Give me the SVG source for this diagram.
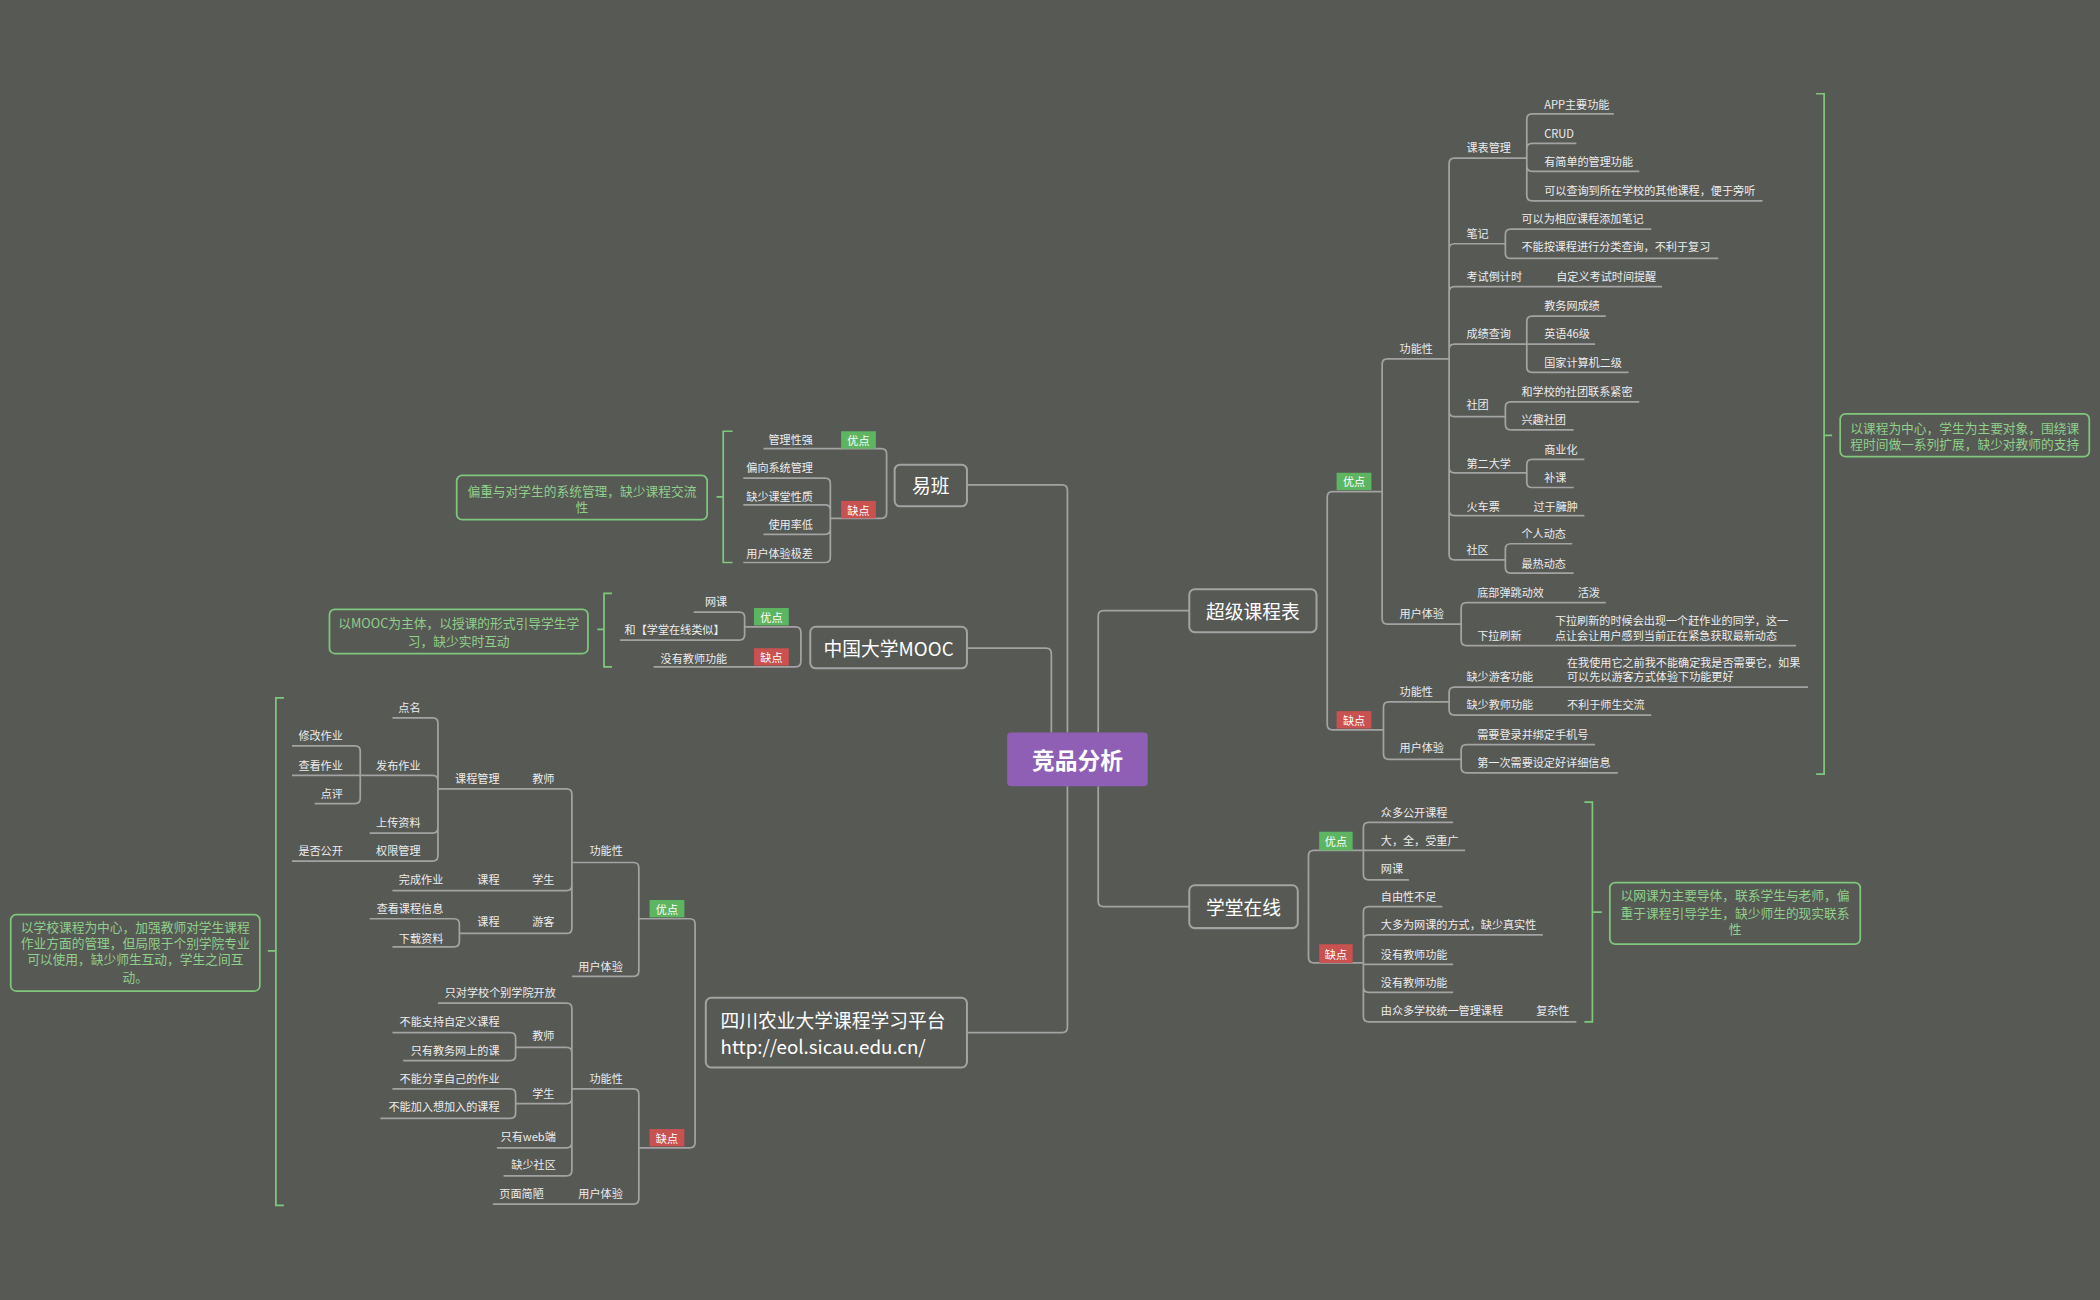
<svg xmlns="http://www.w3.org/2000/svg" width="2100" height="1300" viewBox="0 0 2100 1300">
<style>
.l{fill:none;stroke:#a3a3a3;stroke-width:1.3}
.g{fill:none;stroke:#7fc77c;stroke-width:1.3}
text{font-family:"Noto Sans CJK SC","Noto Sans",sans-serif;dominant-baseline:central}
.t{font-size:8.3px;fill:#ececec}
.te{font-size:8.3px;fill:#ececec;text-anchor:end}
.n{font-size:14px;fill:#ffffff}
.s{font-size:9.5px;fill:#8fd08a;text-anchor:middle}
.tag{font-size:8.3px;fill:#ffffff;text-anchor:middle}
.box{fill:#575955;stroke:#a3a3a3;stroke-width:1.5}
.sb{fill:#575955;stroke:#7fc77c;stroke-width:1.3}
</style>
<rect width="2100" height="1300" fill="#575955"/>
<g transform="scale(1.339286)">
<g id="connectors">
<path class="l" d="M797 547V366Q797 362 793 362H722M785 547V488Q785 484 781 484H722M797 587V767Q797 771 793 771H722M820 547V460Q820 456 824 456H888M820 587V673Q820 677 824 677H888"/>
<!-- yiban -->
<path class="l" d="M662 362V339Q662 335 658 335H570M662 362V383Q662 387 658 387H620M620 387V361Q620 357 616 357H555M620 387V381Q620 377 616 377H555M620 387V395Q620 399 616 399H570M620 387V416Q620 420 616 420H555"/>
<!-- mooc -->
<path class="l" d="M598 484V472Q598 468 594 468H556M598 484V494Q598 498 594 498H488M556 468V461Q556 457 552 457H518M556 468V474Q556 478 552 478H463"/>
<!-- sicau -->
<path class="l" d="M519 771V690Q519 686 515 686H477M519 771V853Q519 857 515 857H477M477 686V648Q477 644 473 644H427M477 686V725Q477 729 473 729H427M427 644V593Q427 589 423 589H327M327 589V540Q327 536 323 536H293M327 589V583Q327 579 323 579H269M327 589V618Q327 622 323 622H276M327 589V639Q327 643 323 643H218M269 579V561Q269 557 265 557H218M269 579H218M269 579V596Q269 600 265 600H235M427 644V661Q427 665 423 665H293M427 644V693Q427 697 423 697H343M343 697V690Q343 686 339 686H276M343 697V703Q343 707 339 707H293M477 857V817Q477 813 473 813H427M477 857V895Q477 899 473 899H368M427 813V753Q427 749 423 749H327M427 813V786Q427 782 423 782H385M427 813V820Q427 824 423 824H385M427 813V853Q427 857 423 857H371M427 813V874Q427 878 423 878H376M385 782V775Q385 771 381 771H293M385 782V788Q385 792 381 792H301M385 824V817Q385 813 381 813H293M385 824V831Q385 835 381 835H284"/>
<!-- super -->
<path class="l" d="M991 456V371Q991 367 995 367H1032M991 456V541Q991 545 995 545H1033M1032 367V272Q1032 268 1036 268H1082M1032 367V462Q1032 466 1036 466H1091M1082 268V122Q1082 118 1086 118H1140M1082 268V186Q1082 182 1086 182H1124M1082 268V218Q1082 214 1086 214H1241M1082 268V261Q1082 257 1086 257H1140M1082 268V307Q1082 311 1086 311H1124M1082 268V349Q1082 353 1086 353H1140M1082 268V381Q1082 385 1086 385H1183M1082 268V414Q1082 418 1086 418H1124M1140 118V89Q1140 85 1144 85H1205M1140 118V111Q1140 107 1144 107H1177M1140 118V124Q1140 128 1144 128H1224M1140 118V146Q1140 150 1144 150H1316M1124 182V175Q1124 171 1128 171H1233M1124 182V189Q1124 193 1128 193H1283M1140 257V240Q1140 236 1144 236H1199M1140 257H1191M1140 257V274Q1140 278 1144 278H1216M1124 311V304Q1124 300 1128 300H1224M1124 311V317Q1124 321 1128 321H1175M1140 353V347Q1140 343 1144 343H1183M1140 353V360Q1140 364 1144 364H1175M1124 418V410Q1124 406 1128 406H1174M1124 418V424Q1124 428 1128 428H1175M1091 466V454Q1091 450 1095 450H1199M1091 466V478Q1091 482 1095 482H1341M1033 545V528Q1033 524 1037 524H1082M1033 545V563Q1033 567 1037 567H1091M1082 524V517Q1082 513 1086 513H1350M1082 524V530Q1082 534 1086 534H1233M1091 567V560Q1091 556 1095 556H1191M1091 567V573Q1091 577 1095 577H1208"/>
<!-- xuetang -->
<path class="l" d="M977 677V639Q977 635 981 635H1018M977 677V715Q977 719 981 719H1018M1018 635V618Q1018 614 1022 614H1085M1018 635H1094M1018 635V653Q1018 657 1022 657H1052M1018 719V681Q1018 677 1022 677H1077M1018 719V702Q1018 698 1022 698H1152M1018 719V720H1085M1018 719V737Q1018 741 1022 741H1085M1018 719V759Q1018 763 1022 763H1177"/>
<!-- brackets -->
<path class="g" d="M547 322H540V420H547M540 371H535M457 443H451V498H457M451 470H446M212 521H206V900H212M206 710H200M1356 70H1362V578H1356M1362 325H1368M1183 599H1189V763H1183M1189 681H1196"/>
</g>
<g id="center"><rect x="752" y="547" width="105" height="40" rx="3" fill="#8e5fb5"/><text x="804.5" y="567" font-size="17" font-weight="bold" fill="#fff" text-anchor="middle">竞品分析</text></g>
<g id="yiban"><rect class="box" x="668" y="347" width="54" height="31" rx="4"/><text class="n" x="695" y="362" text-anchor="middle">易班</text></g>
<g id="mooc"><rect class="box" x="605" y="468" width="117" height="31" rx="4"/><text class="n" x="663.5" y="483.5" text-anchor="middle">中国大学MOOC</text></g>
<g id="sicau"><rect class="box" x="527" y="745" width="195" height="52" rx="4"/><text class="n" x="538" y="761">四川农业大学课程学习平台</text><text class="n" x="538" y="781" font-size="12.5">http://eol.sicau.edu.cn/</text></g>
<g id="super"><rect class="box" x="888" y="440" width="95" height="32" rx="4"/><text class="n" x="935.5" y="456" text-anchor="middle">超级课程表</text></g>
<g id="xuetang"><rect class="box" x="888" y="661" width="81" height="32" rx="4"/><text class="n" x="928.5" y="677" text-anchor="middle">学堂在线</text></g>
<g id="tags">
<rect x="628" y="322" width="26" height="13" fill="#5db561"/><text class="tag" x="641" y="328.5">优点</text>
<rect x="628" y="374" width="26" height="13" fill="#c9514f"/><text class="tag" x="641" y="380.5">缺点</text>
<rect x="563" y="454" width="26" height="13" fill="#5db561"/><text class="tag" x="576" y="460.5">优点</text>
<rect x="563" y="484" width="26" height="13" fill="#c9514f"/><text class="tag" x="576" y="490.5">缺点</text>
<rect x="485" y="672" width="26" height="13" fill="#5db561"/><text class="tag" x="498" y="678.5">优点</text>
<rect x="485" y="843" width="26" height="13" fill="#c9514f"/><text class="tag" x="498" y="849.5">缺点</text>
<rect x="998" y="353" width="26" height="13" fill="#5db561"/><text class="tag" x="1011" y="359.5">优点</text>
<rect x="998" y="531" width="26" height="13" fill="#c9514f"/><text class="tag" x="1011" y="537.5">缺点</text>
<rect x="985" y="621" width="25" height="14" fill="#5db561"/><text class="tag" x="997.5" y="628">优点</text>
<rect x="985" y="705" width="25" height="14" fill="#c9514f"/><text class="tag" x="997.5" y="712">缺点</text>
</g>
<g id="yiban-leaves">
<text class="te" x="607" y="328">管理性强</text><text class="te" x="607" y="349">偏向系统管理</text><text class="te" x="607" y="370">缺少课堂性质</text><text class="te" x="607" y="391">使用率低</text><text class="te" x="607" y="413">用户体验极差</text>
</g>
<g id="mooc-leaves">
<text class="te" x="543" y="449">网课</text><text class="te" x="541" y="470">和【学堂在线类似】</text><text class="te" x="543" y="491">没有教师功能</text>
</g>
<g id="sicau-leaves">
<text class="te" x="465" y="635">功能性</text><text class="te" x="465" y="721">用户体验</text><text class="te" x="414" y="581">教师</text><text class="te" x="373" y="581">课程管理</text><text class="te" x="314" y="528">点名</text><text class="te" x="314" y="571">发布作业</text><text class="te" x="314" y="614">上传资料</text><text class="te" x="314" y="635">权限管理</text><text class="te" x="256" y="549">修改作业</text><text class="te" x="256" y="571">查看作业</text><text class="te" x="256" y="592">点评</text><text class="te" x="256" y="635">是否公开</text><text class="te" x="414" y="656">学生</text><text class="te" x="373" y="656">课程</text><text class="te" x="331" y="656">完成作业</text><text class="te" x="414" y="688">游客</text><text class="te" x="373" y="688">课程</text><text class="te" x="331" y="678">查看课程信息</text><text class="te" x="331" y="700">下载资料</text>
<text class="te" x="415" y="741">只对学校个别学院开放</text><text class="te" x="414" y="773">教师</text><text class="te" x="373" y="762">不能支持自定义课程</text><text class="te" x="373" y="784">只有教务网上的课</text><text class="te" x="414" y="816">学生</text><text class="te" x="373" y="805">不能分享自己的作业</text><text class="te" x="373" y="826">不能加入想加入的课程</text><text class="te" x="415" y="848">只有web端</text><text class="te" x="415" y="869">缺少社区</text><text class="te" x="465" y="805">功能性</text><text class="te" x="465" y="891">用户体验</text><text class="te" x="406" y="891">页面简陋</text>
</g>
<g id="super-leaves">
<text class="t" x="1045" y="260">功能性</text><text class="t" x="1095" y="110">课表管理</text><text class="t" x="1153" y="78">APP主要功能</text><text class="t" x="1153" y="99">CRUD</text><text class="t" x="1153" y="120">有简单的管理功能</text><text class="t" x="1153" y="142">可以查询到所在学校的其他课程，便于旁听</text><text class="t" x="1095" y="174">笔记</text><text class="t" x="1136" y="163">可以为相应课程添加笔记</text><text class="t" x="1136" y="184">不能按课程进行分类查询，不利于复习</text><text class="t" x="1095" y="206">考试倒计时</text><text class="t" x="1162" y="206">自定义考试时间提醒</text><text class="t" x="1095" y="249">成绩查询</text><text class="t" x="1153" y="228">教务网成绩</text><text class="t" x="1153" y="249">英语46级</text><text class="t" x="1153" y="270">国家计算机二级</text><text class="t" x="1095" y="302">社团</text><text class="t" x="1136" y="292">和学校的社团联系紧密</text><text class="t" x="1136" y="313">兴趣社团</text><text class="t" x="1095" y="346">第二大学</text><text class="t" x="1153" y="335">商业化</text><text class="t" x="1153" y="356">补课</text><text class="t" x="1095" y="378">火车票</text><text class="t" x="1145" y="378">过于臃肿</text><text class="t" x="1095" y="410">社区</text><text class="t" x="1136" y="398">个人动态</text><text class="t" x="1136" y="420">最热动态</text>
<text class="t" x="1045" y="458">用户体验</text><text class="t" x="1103" y="442">底部弹跳动效</text><text class="t" x="1178" y="442">活泼</text><text class="t" x="1103" y="474">下拉刷新</text><text class="t" x="1161" y="463">下拉刷新的时候会出现一个赶作业的同学，这一</text><text class="t" x="1161" y="474">点让会让用户感到当前正在紧急获取最新动态</text>
<text class="t" x="1045" y="516">功能性</text><text class="t" x="1095" y="505">缺少游客功能</text><text class="t" x="1170" y="494">在我使用它之前我不能确定我是否需要它，如果</text><text class="t" x="1170" y="505">可以先以游客方式体验下功能更好</text><text class="t" x="1095" y="526">缺少教师功能</text><text class="t" x="1170" y="526">不利于师生交流</text><text class="t" x="1045" y="558">用户体验</text><text class="t" x="1103" y="548">需要登录并绑定手机号</text><text class="t" x="1103" y="569">第一次需要设定好详细信息</text>
</g>
<g id="xuetang-leaves">
<text class="t" x="1031" y="606">众多公开课程</text><text class="t" x="1031" y="627">大，全，受重广</text><text class="t" x="1031" y="648">网课</text><text class="t" x="1031" y="669">自由性不足</text><text class="t" x="1031" y="690">大多为网课的方式，缺少真实性</text><text class="t" x="1031" y="712">没有教师功能</text><text class="t" x="1031" y="733">没有教师功能</text><text class="t" x="1031" y="754">由众多学校统一管理课程</text><text class="t" x="1147" y="754">复杂性</text>
</g>
<g id="summaries">
<rect class="sb" x="341" y="355" width="187" height="33" rx="4"/><text class="s" x="434.5" y="366">偏重与对学生的系统管理，缺少课程交流</text><text class="s" x="434.5" y="378">性</text>
<rect class="sb" x="246" y="455" width="193" height="33" rx="4"/><text class="s" x="342.5" y="465">以MOOC为主体，以授课的形式引导学生学</text><text class="s" x="342.5" y="478">习，缺少实时互动</text>
<rect class="sb" x="8" y="683" width="186" height="57" rx="4"/><text class="s" x="101" y="692">以学校课程为中心，加强教师对学生课程</text><text class="s" x="101" y="704">作业方面的管理，但局限于个别学院专业</text><text class="s" x="101" y="716">可以使用，缺少师生互动，学生之间互</text><text class="s" x="101" y="729">动。</text>
<rect class="sb" x="1374" y="309" width="186" height="32" rx="4"/><text class="s" x="1467" y="319">以课程为中心，学生为主要对象，围绕课</text><text class="s" x="1467" y="331">程时间做一系列扩展，缺少对教师的支持</text>
<rect class="sb" x="1202" y="659" width="187" height="46" rx="4"/><text class="s" x="1295.5" y="668">以网课为主要导体，联系学生与老师，偏</text><text class="s" x="1295.5" y="681">重于课程引导学生，缺少师生的现实联系</text><text class="s" x="1295.5" y="693">性</text>
</g>
</g>
</svg>
